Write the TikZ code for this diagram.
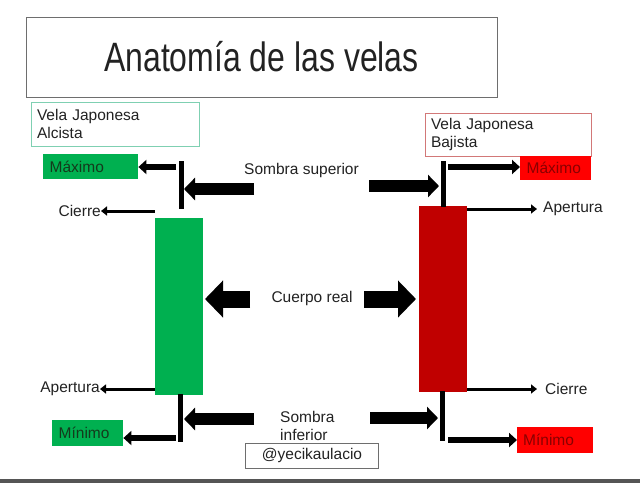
\documentclass[tikz,border=0pt]{standalone}
\usepackage{fontspec}
\setmainfont{Liberation Sans}
\usetikzlibrary{arrows.meta}
\definecolor{txt}{HTML}{222222}
\definecolor{gbody}{HTML}{00B050}
\definecolor{rbody}{HTML}{C00000}
\definecolor{rbox}{HTML}{FF0000}
\definecolor{gtext}{HTML}{143A1C}
\definecolor{rtext}{HTML}{8A0000}
\definecolor{gborder}{HTML}{7FD0B2}
\definecolor{rborder}{HTML}{D27878}
\definecolor{tborder}{HTML}{6E6E6E}
\definecolor{band}{HTML}{555555}
\begin{document}
\begin{tikzpicture}[x=1pt,y=-1pt,
  every node/.style={font=\fontsize{15.5}{18}\selectfont, text=txt},
  thinarr/.style={line width=3pt,-{Triangle[length=6pt,width=9pt]}},
  medarr/.style={line width=6pt,-{Triangle[length=8pt,width=14pt]}},
  bigarr/.style={line width=12pt,-{Triangle[length=11pt,width=22pt]}},
  hugearr/.style={line width=17pt,-{Triangle[length=18pt,width=36pt]}},
  wick/.style={line width=5pt},
  labelbox/.style={draw, line width=1pt, align=left, inner xsep=6pt, inner ysep=0pt, minimum height=44pt},
  tagbox/.style={inner ysep=0pt, inner xsep=6pt, anchor=west, minimum height=25pt, text depth=0pt}]
\fill[white] (0,0) rectangle (640,483);
\useasboundingbox (0,0) rectangle (640,483);
\fill[band] (0,479) rectangle (640,483);

% title
\node[draw=tborder, line width=1pt, minimum width=471pt, minimum height=80pt, inner sep=0pt] (title) at (261.5,57)
  {\fontsize{41}{45}\selectfont\scalebox{0.78}[1]{Anatomía de las velas}};

% label boxes
\node[labelbox, draw=gborder, text width=156pt] (lab1) at (115,124) {Vela Japonesa\\Alcista};
\node[labelbox, draw=rborder, text width=154pt, minimum height=43pt] (lab2) at (508,134.5) {Vela Japonesa\\Bajista};

% bodies
\node[fill=gbody, minimum width=48pt, minimum height=177pt, inner sep=0pt] (bodyG) at (179,306.5) {};
\node[fill=rbody, minimum width=48pt, minimum height=186pt, inner sep=0pt] (bodyR) at (443,299) {};

% wicks
\coordinate (gw1) at (181,161); \coordinate (gw2) at (181,209);
\coordinate (gw3) at (180,394); \coordinate (gw4) at (180,442);
\coordinate (rw1) at (443,161); \coordinate (rw2) at (443,207);
\coordinate (rw3) at (442,391); \coordinate (rw4) at (442,441);
\draw[wick] (gw1) -- (gw2);
\draw[wick] (gw3) -- (gw4);
\draw[wick] (rw1) -- (rw2);
\draw[wick] (rw3) -- (rw4);

% green side tags
\node[tagbox, fill=gbody, text=gtext, minimum width=95pt, text width=82pt] (maxG) at (43,166.5) {Máximo};
\node[tagbox, fill=gbody, text=gtext, minimum width=71pt, text width=58pt, minimum height=26pt] (minG) at (52,433) {Mínimo};
\node[anchor=east, inner sep=0pt] (cierreL) at (101,211) {Cierre};
\node[anchor=east, inner sep=0pt] (apertL) at (100,389) {Apertura};

% red side tags
\node[tagbox, fill=rbox, text=rtext, minimum width=71pt, text width=58pt, minimum height=24pt, inner xsep=5pt] (maxR) at (520,168) {Máximo};
\node[tagbox, fill=rbox, text=rtext, minimum width=76pt, text width=64pt, minimum height=26pt] (minR) at (517,440) {Mínimo};
\node[anchor=west, inner sep=0pt] (apertR) at (543,209) {Apertura};
\node[anchor=west, inner sep=0pt] (cierreR) at (545,389) {Cierre};

% central labels
\node (ss) at (301.5,170) {Sombra superior};
\node (cr) at (312,298) {Cuerpo real};
\node[align=left, anchor=west, inner sep=0pt] (si) at (280,426) {Sombra\\inferior};
\node[draw=tborder, line width=1pt, anchor=west, inner xsep=6pt, minimum width=133pt, minimum height=25pt, inner ysep=0pt] (tag) at (245,455.5) {@yecikaulacio\hfill};

% coordinates for arrow tails
\coordinate (a1) at (176,167);
\coordinate (a2) at (176,438);
\coordinate (a3) at (448,167);
\coordinate (a4) at (448,440);
\coordinate (s1) at (254,189); \coordinate (s1t) at (184,189);
\coordinate (s2) at (369,186); \coordinate (s2t) at (439,186);
\coordinate (s3) at (254,419); \coordinate (s3t) at (184,419);
\coordinate (s4) at (370,418); \coordinate (s4t) at (438,418);
\coordinate (c1) at (250,299); \coordinate (c1t) at (205,299);
\coordinate (c2) at (364,299); \coordinate (c2t) at (416,299);

% arrows green
\draw[medarr] (a1) -- (maxG.east |- a1);
\draw[medarr] (a2) -- (minG.east |- a2);
\draw[thinarr] (bodyG.west |- cierreL) -- (cierreL.east);
\draw[thinarr] (bodyG.west |- apertL) -- (apertL.east);
% arrows red
\draw[medarr] (a3) -- (maxR.west |- a3);
\draw[medarr] (a4) -- (minR.west);
\draw[thinarr] (bodyR.east |- apertR) -- ([xshift=-6pt]apertR.west);
\draw[thinarr] (bodyR.east |- cierreR) -- ([xshift=-8pt]cierreR.west);
% big arrows
\draw[bigarr] (s1) -- (s1t);
\draw[bigarr] (s2) -- (s2t);
\draw[bigarr] (s3) -- (s3t);
\draw[bigarr] (s4) -- (s4t);
\draw[hugearr] (c1) -- (c1t);
\draw[hugearr] (c2) -- (c2t);
\end{tikzpicture}
\end{document}
